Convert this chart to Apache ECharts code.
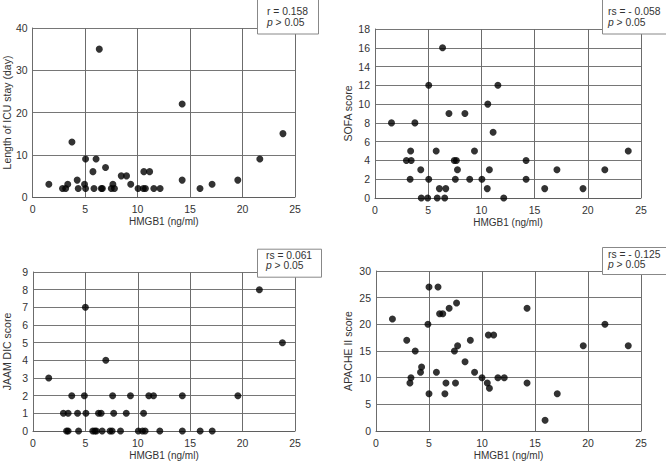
<!DOCTYPE html>
<html>
<head>
<meta charset="utf-8">
<script src="https://cdn.jsdelivr.net/npm/echarts@6/dist/echarts.min.js"></script>
<style>
html,body{margin:0;padding:0;background:#fff;}
#chart{width:666px;height:461px;}
</style>
</head>
<body>
<div id="chart"></div>
<script>
// HMGB1 (ng/ml) vs Length of ICU stay (day)
var icuX = [1.55,2.85,3.15,3.35,3.75,4.25,4.35,4.95,5.05,5.05,5.75,5.85,6.05,6.35,6.55,6.65,6.95,7.5,7.65,7.8,8.45,8.95,9.35,10.05,10.6,10.55,10.75,11.15,11.55,12.15,14.25,14.25,15.95,17.1,19.55,21.65,23.85];
var icuY = [3,2,2,3,13,4,2,3,9,2,6,2,9,35,2,2,7,2,3,2,5,5,3,2,6,2,2,6,2,2,22,4,2,3,4,9,15];

// HMGB1 vs SOFA score
var sofaX = [1.55,2.95,3.35,3.4,3.3,3.75,4.3,4.35,4.95,5.05,5.05,5.75,5.85,6.05,6.35,6.55,6.65,6.95,7.45,7.55,7.65,7.75,8.45,8.9,9.35,10.05,10.55,10.6,10.75,11.1,11.55,12.1,14.2,14.2,15.95,17.1,19.55,21.6,23.8];
var sofaY = [8,4,5,4,2,8,3,0,0,12,2,5,0,1,16,0,1,9,4,2,4,3,9,2,5,2,1,10,3,7,12,0,4,2,1,3,1,3,5];

// HMGB1 vs JAAM DIC score
var dicX = [1.5,2.9,3.2,3.35,3.35,3.7,4.25,4.35,4.9,5.0,5.05,5.7,5.9,6.05,6.25,6.5,6.6,6.95,7.35,7.55,7.6,7.7,8.35,8.9,9.3,10.05,10.45,10.55,10.7,11.05,11.5,12.1,14.25,14.25,15.95,17.1,19.55,21.6,23.8];
var dicY = [3,1,0,0,1,2,1,0,2,7,1,0,0,0,1,1,0,4,0,0,2,1,0,1,2,0,0,1,0,2,2,0,2,0,0,0,2,8,5];

// HMGB1 vs APACHE II score
var apacheX = [1.55,2.9,3.2,3.3,3.7,4.2,4.3,4.9,5.0,5.0,5.7,5.85,6.0,6.3,6.5,6.6,6.9,7.4,7.5,7.6,7.7,8.4,8.9,9.3,10.0,10.5,10.6,10.7,11.1,11.5,12.1,14.25,14.25,15.95,17.1,19.55,21.6,23.8];
var apacheY = [21,17,9,10,15,11,12,20,27,7,11,27,22,22,7,9,23,15,9,24,16,13,17,11,10,9,18,8,18,10,10,23,9,2,7,16,20,16];

var xTickValues = [0,5,10,15,20,25];
var xTicks = ['0','5','10','15','20','25'];
var xName = 'HMGB1 (ng/ml)';
var yNames = ['Length of ICU stay (day)','SOFA score','JAAM DIC score','APACHE II score'];
var yMax = [40,18,9,30];
var yInterval = [10,2,1,5];
var statCoef = ['r = 0.158','rs = - 0.058','rs = 0.061','rs = - 0.125'];
var statP = ' > 0.05';

function pairs(xs, ys){ return xs.map(function(x,i){ return [x, ys[i]]; }); }
var seriesData = [pairs(icuX,icuY), pairs(sofaX,sofaY), pairs(dicX,dicY), pairs(apacheX,apacheY)];

var FONT = 'Liberation Sans, Arial, sans-serif';
var grids = [
  {left:30, top:28, width:265, height:169},
  {left:375, top:29, width:266, height:169},
  {left:31, top:272, width:264, height:159},
  {left:376, top:271, width:265, height:160}
];
var yNameGap = [18,22,21,23];

var xAxes = [], yAxes = [], series = [];
for (var i=0;i<4;i++){
  xAxes.push({
    type:'value', gridIndex:i, min:0, max:25, interval:5,
    name:xName, nameLocation:'middle', nameGap:19,
    nameTextStyle:{color:'#333', fontSize:10, fontFamily:FONT},
    axisLine:{show:true, onZero:false, lineStyle:{color:'#5f5f5f', width:1}},
    axisTick:{show:false},
    axisLabel:{color:'#333', fontSize:10.5, fontFamily:FONT, margin:6,
      alignMinLabel:'center', alignMaxLabel:'center',
      formatter:function(v){ return xTicks[Math.round(v/5)]; }},
    splitLine:{show:true, lineStyle:{color:'#6c6c6c', width:1}}
  });
  yAxes.push({
    type:'value', gridIndex:i, min:0, max:yMax[i], interval:yInterval[i],
    name:yNames[i], nameLocation:'middle', nameGap:yNameGap[i], nameRotate:90,
    nameTextStyle:{color:'#333', fontSize:10.5, fontFamily:FONT},
    axisLine:{show:true, onZero:false, lineStyle:{color:'#636363', width:1}},
    axisTick:{show:false},
    axisLabel:{color:'#333', fontSize:10.5, fontFamily:FONT, margin:5},
    splitLine:{show:true, lineStyle:{color:'#767676', width:1}}
  });
  series.push({
    type:'scatter', xAxisIndex:i, yAxisIndex:i, z:3,
    data:seriesData[i], symbolSize:7,
    itemStyle:{color:'#000'},
    // vertical grid lines at the x tick values, drawn through the axis scale
    markLine:{
      z:1, silent:true, symbol:['none','none'],
      label:{show:false}, emphasis:{disabled:true},
      lineStyle:{color:'#6c6c6c', width:1, type:'solid'},
      data:xTickValues.map(function(v){ return {xAxis:v}; })
    }
  });
}

// stat boxes as title components
var boxes = [
  {left:257, top:-1, pad:[6.5,11,6.5,10], lh:11},
  {left:602, top:-1, pad:[6.5,6,6.5,6], lh:11},
  {left:257, top:249, pad:[1.7,10,6.3,9], lh:10},
  {left:602, top:247, pad:[2,6,5.5,6], lh:10}
];
var titles = boxes.map(function(b,i){
  return {
    left:b.left, top:b.top, padding:b.pad, z:10,
    borderColor:'#888', borderWidth:1, backgroundColor:'#fff',
    text:'{n|'+statCoef[i]+'}\n{i|p}{n|'+statP+'}',
    textStyle:{
      fontSize:10.3, fontWeight:'normal', color:'#333', fontFamily:FONT, lineHeight:b.lh,
      rich:{
        n:{fontSize:10.3, fontWeight:'normal', fontFamily:FONT, color:'#333', lineHeight:b.lh},
        i:{fontSize:10.3, fontWeight:'normal', fontStyle:'italic', fontFamily:FONT, color:'#333', lineHeight:b.lh}
      }
    }
  };
});

var chart = echarts.init(document.getElementById('chart'), null, {renderer:'svg'});
chart.setOption({
  animation:false,
  backgroundColor:'#fff',
  title:titles,
  grid:grids,
  xAxis:xAxes,
  yAxis:yAxes,
  series:series
});
</script>
</body>
</html>
